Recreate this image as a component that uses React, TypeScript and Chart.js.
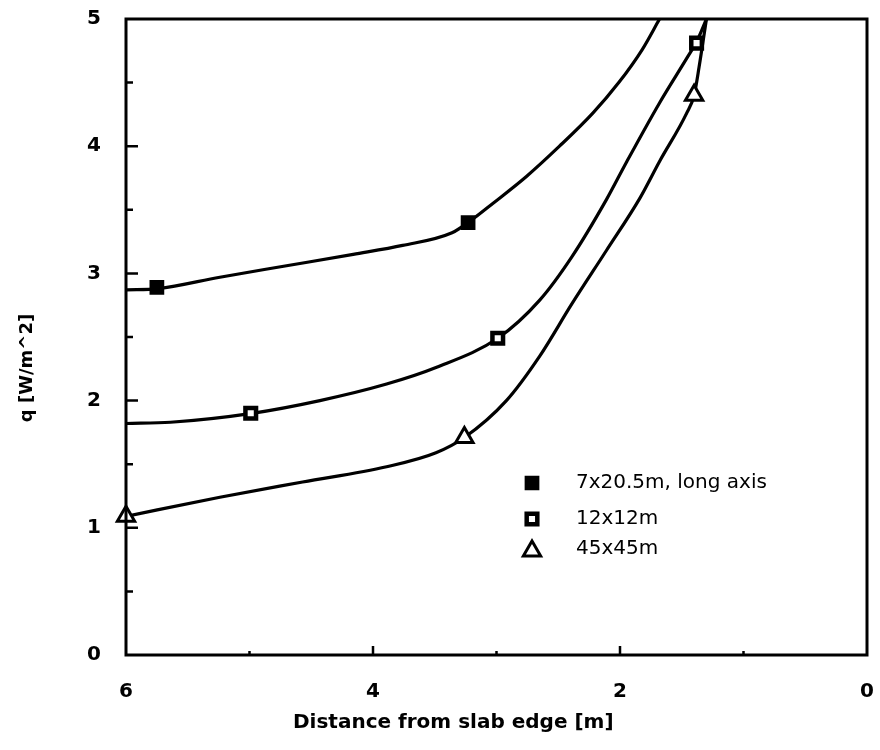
import React, { useEffect, useRef } from 'react';
import { Chart, registerables } from 'chart.js';

Chart.register(...registerables);

// ---- Text ----
const X_TITLE = 'Distance from slab edge [m]';
const Y_TITLE = 'q [W/m^2]';
const SERIES_LABELS = ['7x20.5m, long axis', '12x12m', '45x45m'];

// ---- Measured points (distance from edge [m], q [W/m^2]) ----
const S1_X = [5.75, 3.23];
const S1_Y = [2.89, 3.4];
const S2_X = [4.99, 2.99, 1.38];
const S2_Y = [1.9, 2.49, 4.81];
const S3_X = [6.0, 3.26, 1.4];
const S3_Y = [1.09, 1.71, 4.4];

// ---- Fitted curves ----
const C1_X = [6.0, 5.74, 5.24, 4.7, 4.16, 3.76, 3.36, 3.23, 3.03, 2.76, 2.49, 2.22, 2.01, 1.82, 1.68];
const C1_Y = [2.87, 2.88, 2.97, 3.06, 3.15, 3.22, 3.32, 3.4, 3.55, 3.76, 4.0, 4.26, 4.5, 4.76, 5.0];
const C2_X = [6.0, 5.64, 4.98, 4.43, 3.89, 3.49, 2.99, 2.65, 2.39, 2.11, 1.95, 1.68, 1.46, 1.38, 1.3];
const C2_Y = [1.82, 1.83, 1.9, 2.0, 2.13, 2.26, 2.49, 2.79, 3.13, 3.58, 3.87, 4.34, 4.69, 4.82, 5.0];
const C3_X = [6.0, 5.24, 4.57, 3.89, 3.49, 3.26, 2.92, 2.65, 2.39, 2.11, 1.84, 1.68, 1.46, 1.4, 1.36, 1.3];
const C3_Y = [1.09, 1.24, 1.36, 1.48, 1.59, 1.71, 2.0, 2.35, 2.76, 3.18, 3.59, 3.88, 4.26, 4.4, 4.62, 5.0];

// ---- Axis ticks ----
const X_MIN = 0;
const X_MAX = 6;
const Y_MIN = 0;
const Y_MAX = 5;
const X_MAJOR_TICKS = [6, 4, 2, 0];
const X_MINOR_TICKS = [5, 3, 1];
const Y_MAJOR_TICKS = [0, 1, 2, 3, 4, 5];
const Y_MINOR_TICKS = [0.5, 1.5, 2.5, 3.5, 4.5];

const toPts = (xs: number[], ys: number[]) => xs.map((x, i) => ({ x, y: ys[i] }));

const FONT = 'DejaVu Sans';

const framePlugin = {
  id: 'frameTicks',
  afterDatasetsDraw(chart: any) {
    const { ctx, chartArea: a, scales } = chart;
    const xs = scales.x;
    const ys = scales.y;
    ctx.save();
    ctx.strokeStyle = '#000';
    ctx.lineWidth = 3;
    ctx.strokeRect(a.left, a.top, a.right - a.left, a.bottom - a.top);
    ctx.lineWidth = 2.5;
    ctx.beginPath();
    Y_MAJOR_TICKS.forEach((v) => {
      if (v === Y_MIN || v === Y_MAX) return;
      const y = ys.getPixelForValue(v);
      ctx.moveTo(a.left, y);
      ctx.lineTo(a.left + 12, y);
    });
    Y_MINOR_TICKS.forEach((v) => {
      const y = ys.getPixelForValue(v);
      ctx.moveTo(a.left, y);
      ctx.lineTo(a.left + 7, y);
    });
    X_MAJOR_TICKS.forEach((v) => {
      if (v === X_MIN || v === X_MAX) return;
      const x = xs.getPixelForValue(v);
      ctx.moveTo(x, a.bottom);
      ctx.lineTo(x, a.bottom - 9);
    });
    X_MINOR_TICKS.forEach((v) => {
      const x = xs.getPixelForValue(v);
      ctx.moveTo(x, a.bottom);
      ctx.lineTo(x, a.bottom - 4);
    });
    ctx.stroke();
    ctx.restore();
  },
};

function drawMarker(ctx: CanvasRenderingContext2D, ds: any, x: number, y: number) {
  const r = ds.pointRadius;
  ctx.save();
  ctx.lineWidth = ds.borderWidth;
  ctx.strokeStyle = ds.borderColor;
  ctx.fillStyle = ds.backgroundColor;
  ctx.beginPath();
  if (ds.pointStyle === 'triangle') {
    for (let k = 0; k < 3; k++) {
      const ang = (k * 2 * Math.PI) / 3;
      const px = x + Math.sin(ang) * r;
      const py = y - Math.cos(ang) * r;
      if (k === 0) ctx.moveTo(px, py);
      else ctx.lineTo(px, py);
    }
    ctx.closePath();
  } else {
    const s = Math.SQRT1_2 * r;
    ctx.rect(x - s, y - s, 2 * s, 2 * s);
  }
  ctx.fill();
  ctx.stroke();
  ctx.restore();
}

const annotPlugin = {
  id: 'annot',
  afterDraw(chart: any) {
    const { ctx, chartArea: a } = chart;
    ctx.save();
    ctx.fillStyle = '#000';
    // axis titles
    ctx.font = `bold 18px "${FONT}"`;
    ctx.textAlign = 'center';
    ctx.textBaseline = 'middle';
    ctx.save();
    ctx.translate(a.left - 99, a.top + 349);
    ctx.rotate(-Math.PI / 2);
    ctx.fillText(Y_TITLE, 0, 0);
    ctx.restore();
    ctx.font = `bold 20px "${FONT}"`;
    ctx.textAlign = 'left';
    ctx.fillText(X_TITLE, a.left + 167, a.bottom + 68);
    // legend
    const rows = [a.top + 464, a.top + 500, a.top + 530];
    ctx.font = `20px "${FONT}"`;
    for (let i = 0; i < 3; i++) {
      const ds = chart.data.datasets[i];
      drawMarker(ctx, ds, a.left + 406, rows[i] + (i === 2 ? 2 : 0));
      ctx.fillStyle = '#000';
      ctx.textAlign = 'left';
      ctx.textBaseline = 'middle';
      ctx.fillText(SERIES_LABELS[i], a.left + 450, rows[i]);
    }
    ctx.restore();
  },
};

const zeroPad = (s: any) => {
  s.paddingTop = 0;
  s.paddingBottom = 0;
  s.paddingLeft = 0;
  s.paddingRight = 0;
};

export default function App() {
  const ref = useRef<HTMLCanvasElement | null>(null);
  useEffect(() => {
    if (!ref.current) return;
    const curve = (xs: number[], ys: number[]) => ({
      label: '',
      data: toPts(xs, ys),
      showLine: true,
      borderColor: '#000',
      borderWidth: 3.2,
      pointRadius: 0,
      cubicInterpolationMode: 'monotone' as const,
      fill: false,
      order: 2,
    });
    const tickFont = { family: FONT, weight: 'bold' as const, size: 20 };
    const chart = new Chart(ref.current, {
      type: 'scatter',
      data: {
        datasets: [
          {
            label: SERIES_LABELS[0],
            data: toPts(S1_X, S1_Y),
            pointStyle: 'rect',
            pointRadius: 9,
            borderWidth: 2,
            borderColor: '#000',
            backgroundColor: '#000',
            clip: false,
            order: 1,
          } as any,
          {
            label: SERIES_LABELS[1],
            data: toPts(S2_X, S2_Y),
            pointStyle: 'rect',
            pointRadius: 7.5,
            borderWidth: 4.5,
            borderColor: '#000',
            backgroundColor: '#fff',
            clip: false,
            order: 1,
          } as any,
          {
            label: SERIES_LABELS[2],
            data: toPts(S3_X, S3_Y),
            pointStyle: 'triangle',
            pointRadius: 10,
            borderWidth: 3,
            borderColor: '#000',
            backgroundColor: '#fff',
            clip: false,
            order: 1,
          } as any,
          curve(C1_X, C1_Y) as any,
          curve(C2_X, C2_Y) as any,
          curve(C3_X, C3_Y) as any,
        ],
      },
      options: {
        responsive: false,
        animation: false,
        events: [],
        layout: { padding: { top: 19, right: 12, left: 0, bottom: 0 } },
        plugins: { legend: { display: false }, tooltip: { enabled: false } },
        scales: {
          x: {
            type: 'linear',
            reverse: true,
            min: X_MIN,
            max: X_MAX,
            afterFit: (s: any) => {
              s.height = 95;
              zeroPad(s);
            },
            grid: { display: false, drawTicks: false },
            border: { display: false },
            ticks: { stepSize: 2, padding: 25, color: '#000', font: tickFont },
          },
          y: {
            type: 'linear',
            min: Y_MIN,
            max: Y_MAX,
            afterFit: (s: any) => {
              s.width = 126;
              zeroPad(s);
            },
            grid: { display: false, drawTicks: false },
            border: { display: false },
            ticks: { stepSize: 1, padding: 25, color: '#000', font: tickFont },
          },
        },
      },
      plugins: [framePlugin, annotPlugin],
    });
    return () => chart.destroy();
  }, []);
  return (
    <div style={{ position: 'absolute', left: 0, top: 0, width: 880, height: 750, background: '#fff' }}>
      <canvas ref={ref} width={880} height={750} />
    </div>
  );
}
